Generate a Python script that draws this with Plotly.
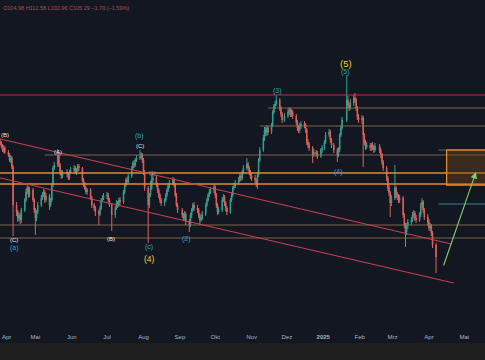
import pandas as pd
import plotly.graph_objects as go

# ---------------- data ----------------
holidays = ["2024-03-29", "2024-05-27", "2024-06-19", "2024-07-04", "2024-09-02",
            "2024-11-28", "2024-12-25", "2025-01-01", "2025-01-09", "2025-01-20", "2025-02-17"]

first_open = 229
closes = [231,234, 233,230,226,228,224, 221,216,218,209,171, 164,158,161,156,166,
          176,184,188,181,186, 176,166,158,164,171, 178,181,184,176,180,
          171,176,191,208,211, 221,211,204,200,204, 202,198,204,206,
          208,204,206,210,208, 196,191,188,184,186, 178,171,168,164,
          162,168,176,178,180, 181,176,171,161, 168,173,171,176,174,
          184,191,196,194,200, 208,213,211,216,218, 219,221,216,204,188,
          171,181,188,196,198, 191,186,181,176,173, 176,181,186,191,193,
          196,191,181,171,166, 161,158,162,154, 151,161,166,171,168,
          166,161,156,158,162, 171,176,181,184,186, 189,181,171,164,166,
          176,179,173,168,164, 176,181,188,190,193, 196,200,198,204,208,
          212,208,204,200,198, 196,192,201,216,226, 238,246,243,248,244,
          251,264,270,272,276, 268,262,256,260, 264,266,262,264,260,
          254,248,246,250,252, 251,246,234,231,228, 221,224,222,220,
          226,228,234,241, 244,236,231,226, 221,226,241,248,256,
          276,271,268,273, 278,276,268,259,256, 258,241,234,229,231,
          228,231,229,226,230, 226,221,214,208, 198,188,183,173,178,
          188,181,179,176,178, 161,151,144,150,154, 156,161,163,158,156,
          161,171,174,166,159, 154,148,150,143,131, 119]
highs = [234,237, 237,235,232,231,230, 226,223,221,220,211, 174,166,164,163,168,
         178,187,191,190,189, 188,178,168,166,174, 181,184,187,186,183,
         182,178,193,210,214, 227,223,213,206,206, 207,204,206,209,
         211,210,208,212,212, 209,198,194,190,188, 188,180,173,170,
         166,170,178,181,183, 184,183,178,173, 170,176,175,178,179,
         186,193,198,199,202, 210,215,216,218,221, 226,224,223,218,206,
         190,183,195,201,203, 200,193,188,183,178, 178,183,188,193,196,
         199,198,193,183,173, 168,163,165,164, 157,163,168,173,174,
         171,168,163,161,165, 173,178,183,187,189, 192,191,183,173,169,
         179,182,181,175,170, 178,184,190,193,196, 199,203,202,206,211,
         218,214,210,206,203, 201,198,204,218,229, 241,249,249,251,250,
         253,266,272,275,281, 278,270,264,263, 267,269,268,267,266,
         262,256,251,253,255, 255,253,248,237,234, 230,227,226,225,
         228,231,236,244, 247,246,238,233, 228,229,243,251,259,
         301,280,274,277, 281,283,278,270,262, 261,260,243,236,234,
         233,233,234,231,233, 232,228,223,216, 210,200,191,185,181,
         211,190,184,182,181, 180,163,153,153,157, 159,164,166,165,161,
         164,173,178,176,168, 162,157,153,152,145, 133]
lows = [227,229, 231,228,224,223,222, 219,214,213,207,140, 160,154,155,152,153,
        164,174,182,178,179, 174,163,141,155,162, 169,176,179,173,174,
        166,169,174,189,206, 209,209,201,197,198, 199,196,196,202,
        204,202,201,204,205, 194,189,186,182,181, 176,168,165,160,
        151,160,166,174,176, 177,174,169,145, 158,166,168,169,171,
        172,182,189,191,192, 198,206,208,209,214, 216,217,213,201,185,
        133,168,179,186,193, 189,183,178,173,170, 170,174,179,184,188,
        191,189,179,169,163, 158,155,156,151, 144,149,158,164,165,
        163,158,151,154,156, 160,169,174,179,182, 183,178,168,161,162,
        164,174,170,165,161, 162,174,179,186,188, 191,194,195,196,202,
        206,205,201,197,195, 193,189,187,199,214, 224,235,240,240,241,
        242,249,262,267,270, 265,259,253,254, 258,261,259,259,257,
        251,245,243,243,247, 248,243,231,228,225, 213,219,219,217,
        218,223,226,232, 239,233,228,223, 214,219,224,239,246,
        254,268,265,266, 270,273,265,256,253, 252,209,231,226,227,
        225,225,226,223,224, 223,218,211,205, 195,185,180,159,170,
        176,178,176,173,173, 158,148,129,141,147, 151,154,158,155,153,
        154,159,168,163,156, 150,145,145,140,128, 103]

# horizontal levels (price, start date)
level_prices = [281, 268, 250, 221, 203, 192, 151, 138]
level_starts = ["2024-03-01", "2024-11-15", "2024-11-08", "2024-05-09",
                "2024-03-01", "2024-03-01", "2024-03-01", "2024-03-01"]
level_kind = ["red", "tan", "tan", "tan", "orange", "orange", "tan", "tan"]

# channel lines (start date, start price, end date, end price)
channel_upper = ["2024-03-15", 241.7, "2025-04-20", 132]
channel_lower = ["2024-03-15", 202.7, "2025-04-22", 93]

target_zone = ["2025-04-16", "2025-06-10", 191, 226]
teal_level = ["2025-04-09", 172]
small_level = ["2025-04-09", "2025-04-16", 226]
arrow_from = ["2025-04-13", 109]
arrow_to = ["2025-05-11", 204]

wave_text = ["(B)", "(A)", "(C)", "(b)", "(C)", "(a)", "(B)", "(c)", "(4)", "(1)",
             "(2)", "(3)", "(5)", "(5)", "(4)"]
wave_date = ["2024-04-01", "2024-05-20", "2024-07-29", "2024-07-29", "2024-04-13",
             "2024-04-13", "2024-07-04", "2024-08-06", "2024-08-06", "2024-08-09",
             "2024-09-07", "2024-11-23", "2025-01-20", "2025-01-20", "2025-01-14"]
wave_price = [241, 224, 230, 240, 136, 128, 137, 129, 117, 203, 137, 285, 313, 304, 204]
wave_kind = ["w", "w", "w", "t", "w", "t", "w", "t", "y", "g", "t", "t", "Y", "t", "t"]

month_ticks = ["2024-05-01", "2024-06-01", "2024-07-01", "2024-08-01",
               "2024-09-01", "2024-10-01", "2024-11-01", "2024-12-01", "2025-01-01",
               "2025-02-01", "2025-03-01", "2025-04-01", "2025-05-01"]
month_labels = ["Mai", "Jun", "Jul", "Aug", "Sep", "Okt", "Nov", "Dez",
                "<b>2025</b>", "Feb", "Mrz", "Apr", "Mai"]
first_month_label = "Apr"

header = "O104.98 H112.58 L102.96 C105.29 −1.70 (−1.59%)"

# ---------------- figure ----------------
dates = [d for d in pd.bdate_range("2024-03-27", "2025-04-07")
         if d.strftime("%Y-%m-%d") not in holidays]
opens = [first_open] + closes[:-1]
assert len(dates) == len(closes) == len(highs) == len(lows), (len(dates), len(closes), len(highs), len(lows))

UP = "#35a08e"
DN = "#dc625e"
BG = "#131722"
FONT = "Liberation Sans, Arial, sans-serif"

fig = go.Figure(go.Candlestick(
    x=dates, open=opens, high=highs, low=lows, close=closes,
    increasing=dict(line=dict(color=UP, width=1), fillcolor=UP),
    decreasing=dict(line=dict(color=DN, width=1), fillcolor=DN),
    whiskerwidth=0, hoverinfo="skip"))

kind_style = {"red": ("#c42d43", 1.1), "tan": ("#9a7650", 0.8), "orange": ("#e68a2e", 1.3)}
shapes = []
for p, s, k in zip(level_prices, level_starts, level_kind):
    c, w = kind_style[k]
    shapes.append(dict(type="line", xref="x", yref="y", x0=s, x1="2025-06-30", y0=p, y1=p,
                       line=dict(color=c, width=w), layer="above"))
for ch in (channel_upper, channel_lower):
    shapes.append(dict(type="line", xref="x", yref="y", x0=ch[0], y0=ch[1], x1=ch[2], y1=ch[3],
                       line=dict(color="#d0404f", width=1), layer="above"))
shapes.append(dict(type="rect", xref="x", yref="y", x0=target_zone[0], x1=target_zone[1],
                   y0=target_zone[2], y1=target_zone[3], fillcolor="rgba(120,72,25,0.40)",
                   line=dict(color="#e68a2e", width=1.3), layer="above"))
shapes.append(dict(type="line", xref="x", yref="y", x0=teal_level[0], x1="2025-06-30",
                   y0=teal_level[1], y1=teal_level[1], line=dict(color="#3a8fa0", width=0.9)))
shapes.append(dict(type="line", xref="x", yref="y", x0=small_level[0], x1=small_level[1],
                   y0=small_level[2], y1=small_level[2], line=dict(color="#5d6a7a", width=0.9)))
# bottom bar below the time axis
shapes.append(dict(type="rect", xref="paper", yref="paper", x0=-0.02, x1=1.02,
                   y0=-0.12, y1=-0.0426, fillcolor="#1f1f1f", line=dict(width=0), layer="above"))

kind_font = {"w": ("#e6e6e6", 6), "t": ("#2aa2c4", 7), "y": ("#f0d040", 8.5),
             "Y": ("#f0d040", 9.5), "g": ("#8f9aa6", 5.5)}
annotations = []
for i, (t, d, p, k) in enumerate(zip(wave_text, wave_date, wave_price, wave_kind)):
    c, s = kind_font[k]
    ann = dict(x=d, y=p, xref="x", yref="y", text=t, showarrow=False,
               font=dict(color=c, size=s, family=FONT))
    if i == 0:  # label at the very left edge: keep it inside the picture
        ann.update(xanchor="left", xshift=-1)
    annotations.append(ann)
annotations.append(dict(x=arrow_to[0], y=arrow_to[1], ax=arrow_from[0], ay=arrow_from[1],
                        xref="x", yref="y", axref="x", ayref="y", text="", showarrow=True,
                        arrowhead=2, arrowsize=1.2, arrowwidth=1.1, arrowcolor="#7fd06a"))
annotations.append(dict(x=0.003, y=0.975, xref="paper", yref="paper", xanchor="left",
                        yanchor="middle", text=header, showarrow=False,
                        font=dict(color="#b44a55", size=5.5, family=FONT)))
annotations.append(dict(x=0, y=0, xref="paper", yref="paper", xanchor="left", yanchor="top",
                        yshift=-3, text=first_month_label, showarrow=False,
                        font=dict(color="#b2b5be", size=6, family=FONT)))

fig.update_layout(
    width=485, height=360,
    margin=dict(l=0, r=0, t=0, b=31, autoexpand=False),
    paper_bgcolor=BG, plot_bgcolor=BG,
    showlegend=False,
    shapes=shapes, annotations=annotations,
    xaxis=dict(range=["2024-03-31 21:00", "2025-05-18 16:00"], rangeslider=dict(visible=False),
               tickvals=month_ticks, ticktext=month_labels, showgrid=False, zeroline=False,
               showline=False, ticks="", ticklabeloverflow="allow", ticklabelstandoff=3,
               automargin=False,
               tickfont=dict(color="#b2b5be", size=6, family=FONT)),
    yaxis=dict(range=[47, 376], visible=False, showgrid=False, zeroline=False, automargin=False),
)

fig.write_html("out.html", config={"displayModeBar": False},
               post_script="document.body.style.margin='0';document.body.style.overflow='hidden';")
